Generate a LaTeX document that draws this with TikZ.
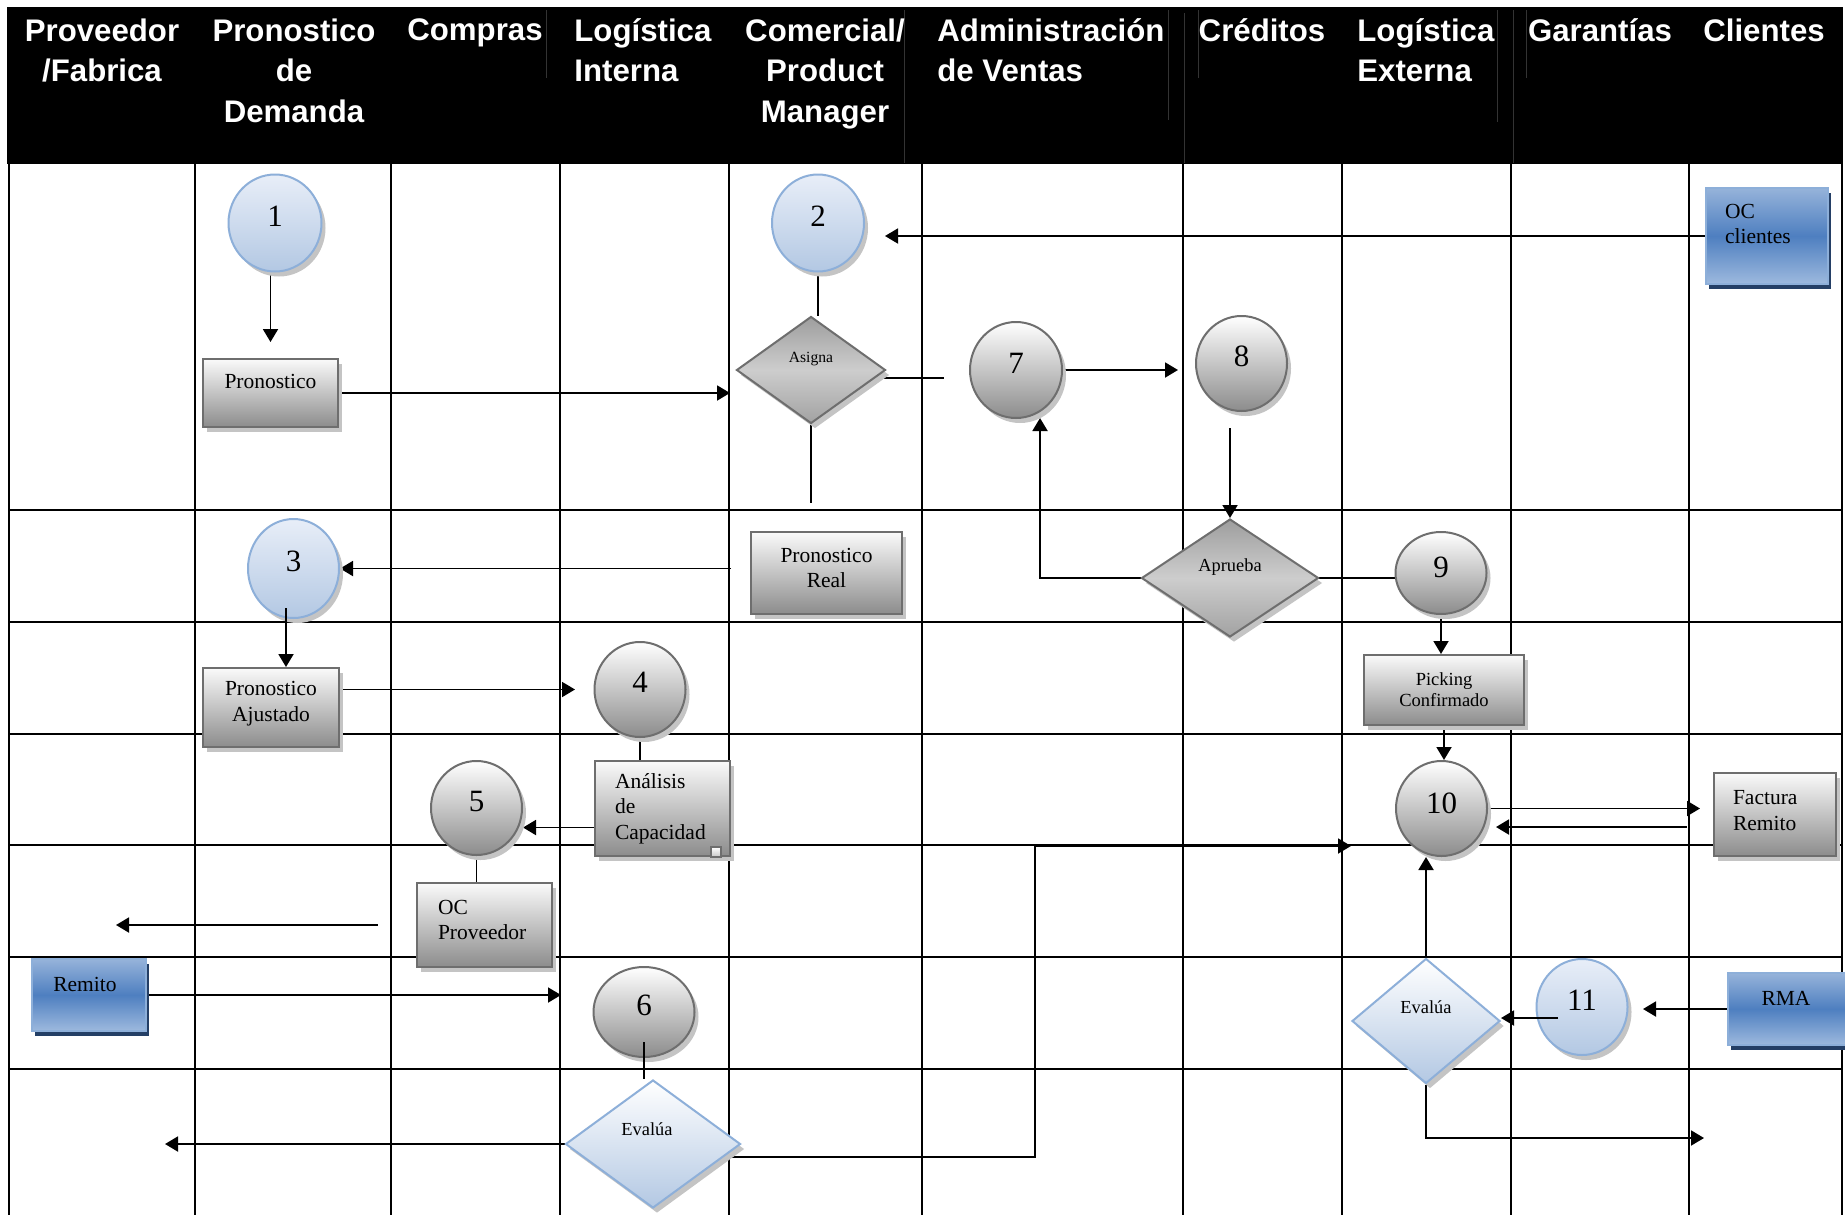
\documentclass[tikz,border=0pt]{standalone}
\usepackage{fontspec}
\setmainfont{Liberation Serif}
\newfontfamily\headfont{Liberation Sans}
\usetikzlibrary{arrows.meta,shapes.geometric,shadows}

\definecolor{boxedge}{HTML}{6E6E6E}
\definecolor{graytop}{HTML}{FAFAFA}
\definecolor{graybot}{HTML}{8C8C8C}
\definecolor{hatch}{HTML}{C4C4C4}
\definecolor{bluecirctop}{HTML}{E8EEF8}
\definecolor{bluecircbot}{HTML}{B3C8E3}
\definecolor{blueedge}{HTML}{8DAFD9}
\definecolor{bluebtop}{HTML}{96B3DA}
\definecolor{bluebmid}{HTML}{4E7FC0}
\definecolor{bluebbot}{HTML}{9DB9DE}
\definecolor{navy}{HTML}{243F66}
\definecolor{diatop}{HTML}{9E9E9E}
\definecolor{diamid}{HTML}{CDCDCD}
\definecolor{diabot}{HTML}{A2A2A2}
\definecolor{hdrline}{HTML}{333333}

\pgfdeclarelayer{grid}
\pgfdeclarelayer{edges}
\pgfsetlayers{grid,edges,main}

\tikzset{
  sz/.style 2 args={minimum width=#1*0.5pt, minimum height=#2*0.5pt},
  hatchshadow/.style={drop shadow={shadow xshift=2pt, shadow yshift=-2.5pt, fill=hatch, opacity=1}},
  graybox/.style={rectangle, draw=boxedge, line width=1pt, top color=graytop, bottom color=graybot, inner sep=0pt, hatchshadow},
  bluebox/.style={rectangle, draw=blueedge, line width=1pt, top color=bluebtop, bottom color=bluebbot, middle color=bluebmid, inner sep=0pt,
    drop shadow={shadow xshift=1.5pt, shadow yshift=-2.5pt, fill=navy, opacity=1}},
  graycirc/.style={ellipse, draw=boxedge, line width=1pt, top color=white, bottom color=graybot, inner sep=0pt, hatchshadow},
  bluecirc/.style={ellipse, draw=blueedge, line width=1pt, top color=bluecirctop, bottom color=bluecircbot, inner sep=0pt, hatchshadow},
  graydia/.style={diamond, draw=boxedge, line width=1pt, top color=diatop, bottom color=diabot, middle color=diamid, inner sep=0pt, hatchshadow},
  bluedia/.style={diamond, draw=blueedge, line width=1pt, top color=white, bottom color=bluecircbot, inner sep=0pt, hatchshadow},
  txt/.style={font=\fontsize{10.75}{12.75}\selectfont, inner sep=0pt},
  num/.style={font=\fontsize{15.5}{18}\selectfont, inner sep=0pt},
  smalltxt/.style={font=\fontsize{9.2}{10.5}\selectfont, inner sep=0pt},
  hdr/.style={font=\headfont\bfseries\fontsize{15.6}{20.25}\selectfont, text=white, inner sep=0pt},
  gridline/.style={line width=1.1pt},
  flow/.style={line width=0.95pt},
  arr/.style={flow, -{Triangle[length=6.5pt,width=7.5pt]}},
}

\begin{document}
\begin{tikzpicture}[x=0.5pt, y=-0.5pt]
\useasboundingbox (0,0) rectangle (1845,1215);

% swimlane grid
\begin{pgfonlayer}{grid}
  \fill[white] (0,0) rectangle (1845,1215);
  \foreach \gx in {9,195,391,560,729,922,1183,1342,1511,1689,1842}
    \draw[gridline] (\gx,164) -- (\gx,1215);
  \foreach \gy in {510,622,734,845,957,1069}
    \draw[gridline] (9,\gy) -- (1842,\gy);
\end{pgfonlayer}

% header band
\fill[black] (7,7) rectangle (1843,164);
\foreach \hx/\ha/\hb in {546/10/78, 904/10/163, 1168/10/120, 1184/13/163, 1198/10/78, 1497/10/122, 1513/10/163, 1526/10/78}
  \draw[hdrline, line width=0.5pt] (\hx,\ha) -- (\hx,\hb);

\node[hdr, align=center, anchor=north] (hProv) at (102,18) {Proveedor\\/Fabrica};
\node[hdr, align=center, anchor=north] (hPron) at (294,18) {Pronostico\\de\\Demanda};
\node[hdr, anchor=north] (hComp) at (475,18) {Compras};
\node[hdr, align=left, anchor=north west] (hLogI) at (574,18) {Logística\\Interna};
\node[hdr, align=center, anchor=north] (hCom) at (825,18) {Comercial/\\Product\\Manager};
\node[hdr, align=left, anchor=north west] (hAdm) at (937,18) {Administración\\de Ventas};
\node[hdr, anchor=north] (hCred) at (1262,18) {Créditos};
\node[hdr, align=left, anchor=north west] (hLogE) at (1357,18) {Logística\\Externa};
\node[hdr, anchor=north] (hGar) at (1600,18) {Garantías};
\node[hdr, anchor=north] (hCli) at (1764,18) {Clientes};

% process steps
\node[bluecirc, sz={93}{97}, label={[num,yshift=3.5pt]center:1}] (c1) at (275,223) {};
\node[bluecirc, sz={92}{97}, label={[num,yshift=3.5pt]center:2}] (c2) at (818,223) {};
\node[bluecirc, sz={91}{99}, label={[num,yshift=3.5pt]center:3}] (c3) at (293.5,568.5) {};
\node[graycirc, sz={91}{95}, label={[num,yshift=3.5pt]center:4}] (c4) at (640,689.5) {};
\node[graycirc, sz={91}{94}, label={[num,yshift=3.5pt]center:5}] (c5) at (476.5,808) {};
\node[graycirc, sz={101}{90}, label={[num,yshift=3.5pt]center:6}] (c6) at (644,1012) {};
\node[graycirc, sz={92}{96}, label={[num,yshift=3.5pt]center:7}] (c7) at (1016,370) {};
\node[graycirc, sz={91}{95}, label={[num,yshift=3.5pt]center:8}] (c8) at (1241.5,363.5) {};
\node[graycirc, sz={91}{82}, label={[num,yshift=3pt]center:9}] (c9) at (1441,573) {};
\node[graycirc, sz={91}{95}, label={[num,yshift=2.5pt]center:10}] (c10) at (1441.5,808.5) {};
\node[bluecirc, sz={91}{96}, label={[num,yshift=3.5pt]center:11}] (c11) at (1582,1007) {};

% documents
\node[graybox, sz={135}{68}, label={[txt,yshift=6pt]center:Pronostico}] (pron) at (270.5,393) {};
\node[graybox, sz={151}{82}, label={[txt,align=center,yshift=2.5pt]center:Pronostico\\Real}] (preal) at (826.5,573) {};
\node[graybox, sz={136}{79}, label={[txt,align=center,yshift=2pt]center:Pronostico\\Ajustado}] (pajus) at (271,707.5) {};
\node[graybox, sz={160}{70}, label={[font=\fontsize{9.25}{10.5}\selectfont,inner sep=0pt,align=center]center:Picking\\Confirmado}] (pick) at (1444,690) {};
\node[graybox, sz={135}{95}, label={[txt,align=left,text width=47.5pt]center:Análisis\\de\\Capacidad}] (analisis) at (662.5,808.5) {};
\node[draw=boxedge, line width=0.6pt, top color=white, bottom color=gray!45, minimum size=5pt, inner sep=0pt] (anMark) at (716,852) {};
\node[graybox, sz={122}{83}, label={[txt,align=left,text width=42pt,yshift=2pt]center:Factura\\Remito}] (fact) at (1775,814.5) {};
\node[graybox, sz={135}{84}, label={[txt,align=left,text width=46.5pt,yshift=2.5pt]center:OC\\Proveedor}] (ocprov) at (484.5,925) {};

\node[bluebox, sz={122}{96}, label={[txt,align=left,text width=42pt,yshift=6pt]center:OC\\clientes}] (ocCli) at (1767,236) {};
\node[bluebox, sz={114}{72}, label={[txt,yshift=5.5pt,xshift=-2pt]center:Remito}] (remito) at (89,995) {};
\node[bluebox, sz={124}{72}, label={[txt,yshift=5.5pt,xshift=-2pt]center:RMA}] (rma) at (1790,1009) {};

% decisions
\node[graydia, sz={149}{107}, label={[font=\fontsize{7.8}{9}\selectfont,inner sep=0pt,yshift=5.5pt]center:Asigna}] (asg) at (811,370) {};
\node[graydia, sz={177}{118}, label={[smalltxt,yshift=5.5pt]center:Aprueba}] (apr) at (1230,578) {};
\node[bluedia, sz={148}{125}, label={[smalltxt,yshift=7pt]center:Evalúa}] (ev11) at (1426,1021) {};
\node[bluedia, sz={175}{128}, label={[smalltxt,yshift=7.5pt,xshift=-3pt]center:Evalúa}] (ev6) at (653,1144) {};

% loose ends of connectors
\coordinate (asgDown) at (809,503);
\coordinate (asgRight) at (944,378);
\coordinate (c7foot) at (1040,418);
\coordinate (ev11out) at (1704,1138);
\coordinate (provOut) at (116,927);
\coordinate (ev6out) at (165,1143);
\coordinate (jLow) at (1035,1157);
\coordinate (jHigh) at (1035,846);
\coordinate (to10) at (1351,846);

% connectors below the shapes
\begin{pgfonlayer}{edges}
  \draw[arr, shorten >=8pt] (pron.north |- c1.south) -- (pron.north);
  \draw[arr, shorten >=2.75pt] (pron.east) -- (pron.east -| asg.west);
  \draw[flow] (c2.south) -- (c2.south |- asg.north);
  \draw[flow] (asg.south) -- (asg.south |- asgDown);
  \draw[flow] (asg.center |- asgRight) -- (asgRight);
  \draw[arr, shorten >=8.5pt] (c7.east) -- (c7.east -| c8.west);
  \draw[arr, shorten <=8pt] (apr.north |- c8.south) -- (apr.north);
  \draw[arr] (apr.west) -| (c7foot);
  \draw[flow] (apr.center) -- (apr.center -| c9.west);
  \draw[arr] (c9.south) -- (c9.south |- pick.north);
  \draw[arr] (pick.south) -- (pick.south |- c10.north);
  \draw[arr, shorten >=6.5pt] (c10.east) -- (c10.east -| fact.west);
  \draw[arr, shorten <=13.25pt, shorten >=4pt] ([yshift=-6.25pt]fact.west) -- ([yshift=-6.25pt]fact.west -| c10.east);
  \draw[arr] (ev11.north) -- (ev11.north |- c10.south);
  \draw[arr] (ev11.south) |- (ev11out);
  \draw[arr, shorten >=7.25pt] (rma.west) -- (rma.west -| c11.east);
  \draw[arr, shorten >=10pt] (ocCli.west) -- (ocCli.west -| c2.east);
  \draw[arr, shorten <=9.5pt] (preal.west |- c3.east) -- (c3.east);
  \draw[arr, shorten >=9.25pt] (pajus.east |- c4.west) -- (c4.west);
  \draw[flow] (c4.south) -- (c4.south |- analisis.north);
  \draw[arr] ([yshift=-9.5pt]analisis.west) -- ([yshift=-9.5pt]analisis.west -| c5.east);
  \draw[flow] (c5.south) -- (c5.south |- ocprov.north);
  \draw[arr, shorten <=19.25pt] (ocprov.west) -- (ocprov.west -| provOut);
  \draw[arr, shorten >=15.75pt] (remito.east) -- (remito.east -| c6.west);
  \draw[arr] (ev6.west) -- (ev6.west -| ev6out);
  \draw[arr] (ev6.center |- jLow) -- (jLow) -- (jHigh) -- (to10);
\end{pgfonlayer}

% connectors that run over the shapes
\draw[flow] ([yshift=-15pt]c6.center) -- (c6.center |- ev6.north);
\draw[arr] ([xshift=-12pt,yshift=-5.5pt]c11.center) -- ([yshift=-5.5pt]c11.center -| ev11.east);
\draw[arr] ([xshift=-3.75pt,yshift=5.5pt]c3.south) -- ([xshift=-3.75pt]c3.south |- pajus.north);
\end{tikzpicture}
\end{document}
